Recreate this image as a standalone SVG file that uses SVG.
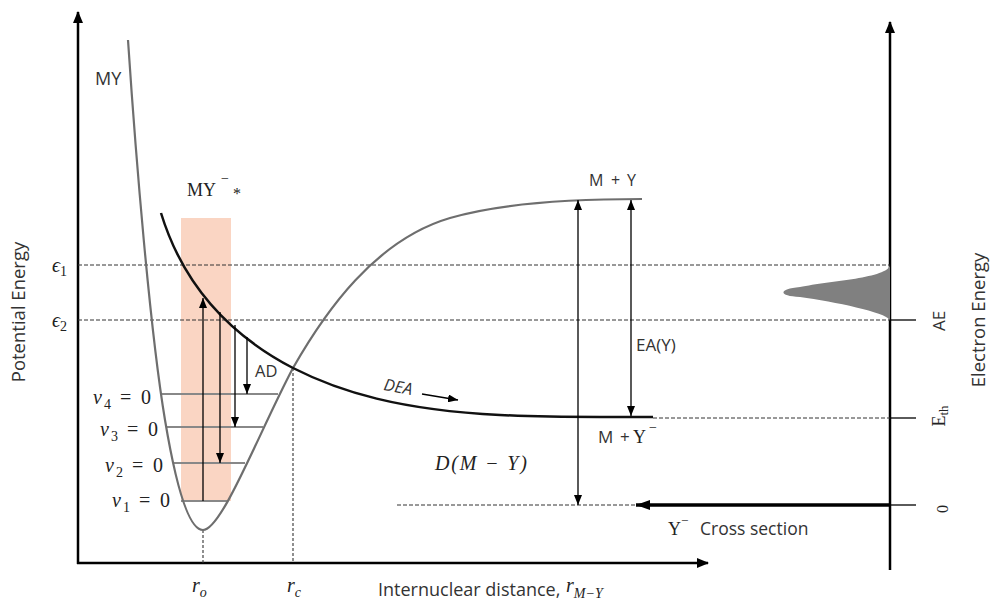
<svg xmlns="http://www.w3.org/2000/svg" width="990" height="602" viewBox="0 0 990 602">
<defs>
<marker id="a" viewBox="0 0 10 8" refX="10" refY="4" markerWidth="10" markerHeight="8" markerUnits="userSpaceOnUse" orient="auto-start-reverse"><path d="M0,0L10,4L0,8z" fill="#000"/></marker>
<marker id="ab" viewBox="0 0 14 10" refX="14" refY="5" markerWidth="14" markerHeight="10" markerUnits="userSpaceOnUse" orient="auto"><path d="M0,0L14,5L0,10z" fill="#000"/></marker>
<marker id="ax" viewBox="0 0 12 10" refX="11" refY="5" markerWidth="12" markerHeight="10" markerUnits="userSpaceOnUse" orient="auto"><path d="M0,0L12,5L0,10z" fill="#000"/></marker>
</defs>
<style>
.ax{stroke:#000;stroke-width:2.5;fill:none}
.tick{stroke:#000;stroke-width:1.3}
.dash{stroke:#333;stroke-width:1;stroke-dasharray:4 2;fill:none}
.dot{stroke:#333;stroke-width:1.1;stroke-dasharray:3 2}
.ar{stroke:#000;stroke-width:1.3;fill:none}
.lvl{stroke:#888;stroke-width:2.2}
.sans{font-family:"Open Sans","Liberation Sans",sans-serif;fill:#333}
.serif{font-family:"Liberation Serif","DejaVu Serif",serif;fill:#222}
.it{font-style:italic}
</style>

<g id="band"><rect x="181" y="218" width="50" height="283" fill="#fad5c3"/></g>

<g id="axes">
<line class="ax" x1="78" y1="564" x2="78" y2="12" marker-end="url(#ax)"/>
<line class="ax" x1="77" y1="563" x2="708" y2="563" marker-end="url(#ax)"/>
<line class="ax" x1="890" y1="570" x2="890" y2="22" marker-end="url(#ax)"/>
<line class="tick" x1="890" y1="320" x2="916" y2="320"/>
<line class="tick" x1="890" y1="418" x2="916" y2="418"/>
<line class="tick" x1="890" y1="505" x2="916" y2="505"/>
</g>

<g id="guides">
<line class="dash" x1="78" y1="265" x2="890" y2="265"/>
<line class="dash" x1="78" y1="320" x2="890" y2="320"/>
<line class="dash" x1="653" y1="418" x2="890" y2="418"/>
<line class="dash" x1="397" y1="505" x2="636" y2="505"/>
<line class="dot" x1="203" y1="530" x2="203" y2="563"/>
<line class="dot" x1="293" y1="368" x2="293" y2="563"/>
</g>

<g id="levels">
<line class="lvl" x1="160" y1="394" x2="278" y2="394"/>
<line class="lvl" x1="167" y1="427" x2="263" y2="427"/>
<line class="lvl" x1="173" y1="463" x2="245" y2="463"/>
<line class="lvl" x1="181" y1="501" x2="228" y2="501"/>
</g>

<g id="curve-MY">
<path d="M128,40 C136,160 150,330 165,420 C175,480 188,530 203,530 C222,530 260,430 293,368 C325,312 375,240 450,218 C500,203.3 570,199 642,199" fill="none" stroke="#6e6e6e" stroke-width="2.2"/>
</g>

<g id="curve-MYstar">
<path d="M161,213 C180,275 220,330 293,368 C340,392 400,410 500,415 C540,417 570,417 600,417 L653,417" fill="none" stroke="#111" stroke-width="2.5"/>
</g>

<g id="gauss">
<path d="M890,265 C888,278 830,281 800,287 C778,289 778,296 800,297 C835,302 885,312 890,320 Z" fill="#808080"/>
</g>

<g id="connectors">
<line class="ar" x1="203" y1="501" x2="203" y2="298" marker-end="url(#a)"/>
<line class="ar" x1="220" y1="312" x2="220" y2="463" marker-end="url(#a)"/>
<line class="ar" x1="235" y1="325" x2="235" y2="427" marker-end="url(#a)"/>
<line class="ar" x1="247" y1="337" x2="247" y2="394" marker-end="url(#a)"/>
<line class="ar" x1="578" y1="200" x2="578" y2="505" marker-start="url(#a)" marker-end="url(#a)"/>
<line class="ar" x1="631" y1="200" x2="631" y2="416" marker-start="url(#a)" marker-end="url(#a)"/>
<line class="ar" x1="422" y1="394" x2="458" y2="400" marker-end="url(#a)"/>
<line x1="890" y1="505" x2="636" y2="505" stroke="#000" stroke-width="3.5" marker-end="url(#ab)"/>
</g>

<g id="labels">
<text class="sans" x="95" y="85" font-size="18">MY</text>
<text class="serif" x="187" y="196" font-size="18">MY</text>
<text class="serif" x="221" y="183" font-size="14">−</text>
<text class="serif" x="233" y="199" font-size="16">*</text>

<text class="serif it" x="52" y="272" font-size="20">ϵ<tspan font-style="normal" font-size="14" dy="4">1</tspan></text>
<text class="serif it" x="52" y="327" font-size="20">ϵ<tspan font-style="normal" font-size="14" dy="4">2</tspan></text>

<text class="serif" font-size="20" y="404"><tspan class="it" x="93">ν</tspan><tspan x="104" dy="5" font-size="14">4</tspan><tspan x="120" dy="-5">=</tspan><tspan x="141">0</tspan></text>
<text class="serif" font-size="20" y="436"><tspan class="it" x="100">ν</tspan><tspan x="111" dy="5" font-size="14">3</tspan><tspan x="127" dy="-5">=</tspan><tspan x="148">0</tspan></text>
<text class="serif" font-size="20" y="472"><tspan class="it" x="105">ν</tspan><tspan x="116" dy="5" font-size="14">2</tspan><tspan x="132" dy="-5">=</tspan><tspan x="153">0</tspan></text>
<text class="serif" font-size="20" y="507"><tspan class="it" x="112">ν</tspan><tspan x="123" dy="5" font-size="14">1</tspan><tspan x="139" dy="-5">=</tspan><tspan x="160">0</tspan></text>

<text class="sans" x="255" y="377" font-size="16.5">AD</text>
<text class="sans it" x="383" y="390" font-size="16.5" transform="rotate(10 383 390)">DEA</text>

<text class="sans" font-size="16" y="186"><tspan x="589">M</tspan><tspan x="611">+</tspan><tspan x="627">Y</tspan></text>
<text class="sans" font-size="17" y="443"><tspan x="598">M</tspan><tspan x="620">+</tspan></text>
<text class="serif" font-size="18" x="633" y="443">Y</text>
<text class="serif" font-size="14" x="649" y="432">−</text>
<text class="sans" x="636" y="351" font-size="17">EA(Y)</text>

<text class="serif it" x="435" y="470" font-size="20" textLength="92" lengthAdjust="spacing">D(M − Y)</text>

<text class="serif it" x="192" y="592" font-size="20">r<tspan font-size="14" dy="5">o</tspan></text>
<text class="serif it" x="287" y="592" font-size="20">r<tspan font-size="14" dy="5">c</tspan></text>

<text class="sans" x="378" y="596" font-size="18">Internuclear distance,</text>
<text class="serif it" x="566" y="592" font-size="20">r<tspan font-size="14" dy="6">M−Y</tspan></text>

<text class="serif" x="668" y="535" font-size="18">Y</text>
<text class="serif" x="681" y="525" font-size="13">−</text>
<text class="sans" x="700" y="535" font-size="17.5">Cross section</text>

<text class="sans" font-size="18.5" text-anchor="middle" transform="translate(25,312) rotate(-90)">Potential Energy</text>
<text class="sans" font-size="18.5" text-anchor="middle" transform="translate(985,320) rotate(-90)">Electron Energy</text>
<text class="sans" font-size="17" text-anchor="middle" transform="translate(945,321) rotate(-90)">AE</text>
<text class="serif" font-size="18" text-anchor="middle" transform="translate(945,416) rotate(-90)">E<tspan font-size="13" dy="3">th</tspan></text>
<text class="serif" font-size="16" text-anchor="middle" transform="translate(948,509) rotate(-90)">0</text>
</g>
</svg>
